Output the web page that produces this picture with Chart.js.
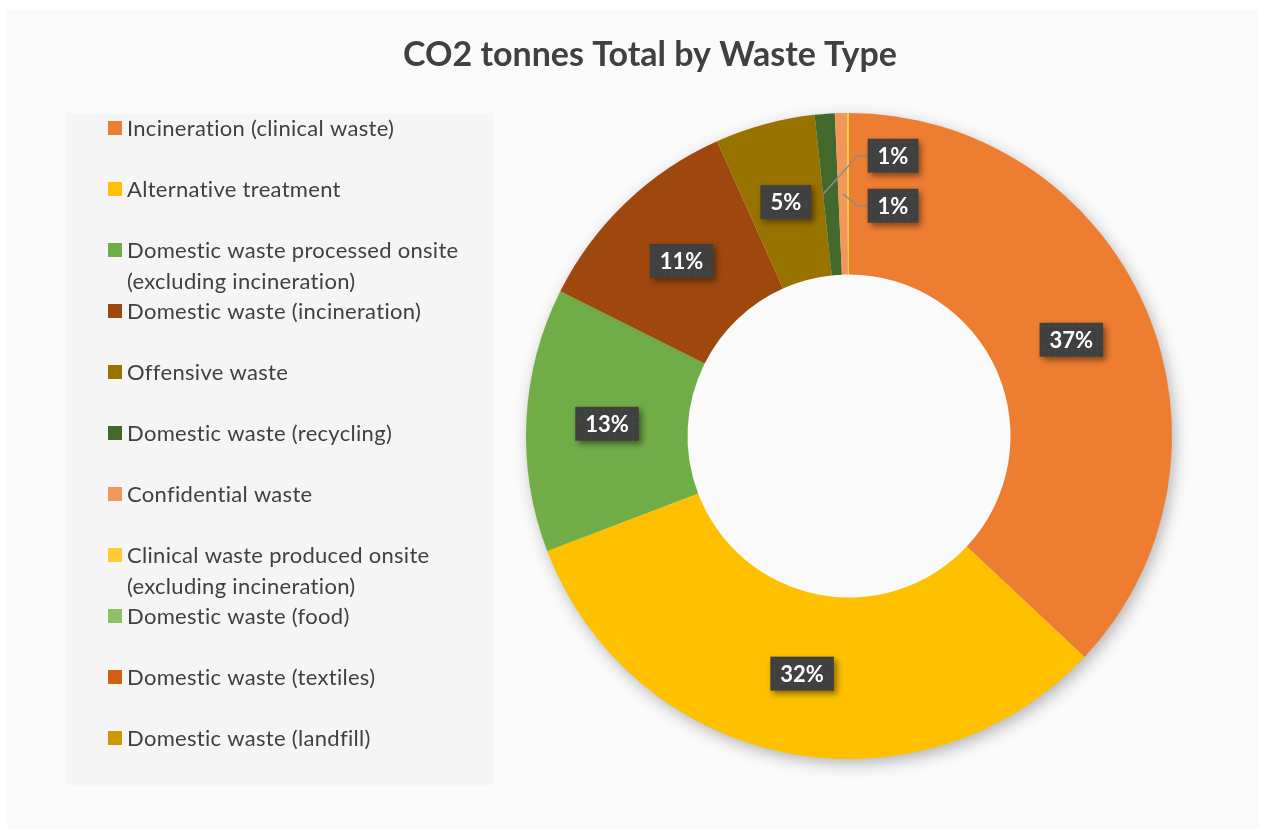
<!DOCTYPE html>
<html>
<head>
<meta charset="utf-8">
<script src="https://cdn.jsdelivr.net/npm/chart.js@4.4.1/dist/chart.umd.min.js"></script>
<style>
    html, body { margin: 0; padding: 0; background: #ffffff; }
    canvas { display: block; }
</style>
</head>
<body>
<canvas id="graficoResiduos" width="1266" height="837"></canvas>
<script>
// Datos del gráfico
const titulo = "CO2 tonnes Total by Waste Type";

const categorias = [
    "Incineration (clinical waste)",
    "Alternative treatment",
    "Domestic waste processed onsite (excluding incineration)",
    "Domestic waste (incineration)",
    "Offensive waste",
    "Domestic waste (recycling)",
    "Confidential waste",
    "Clinical waste produced onsite (excluding incineration)",
    "Domestic waste (food)",
    "Domestic waste (textiles)",
    "Domestic waste (landfill)"
];

// porcentaje del total (estimado del gráfico)
const valores = [37.0, 32.2, 13.2, 10.9, 5.0, 1.0, 0.6, 0.1, 0, 0, 0];

const colores = [
    "#ED7D31", "#FFC000", "#70AD47", "#9E480E", "#997300", "#43682B",
    "#F1975A", "#FFCD33", "#8CC168", "#D26012", "#CC9A00"
];

const FUENTE = "Lato, 'Open Sans', sans-serif";

// Fondo, título y leyenda
const fondoPlugin = {
    id: "fondo",
    beforeDraw(chart) {
        const ctx = chart.ctx;
        ctx.save();
        ctx.fillStyle = "#ffffff";
        ctx.fillRect(0, 0, chart.width, chart.height);
        ctx.fillStyle = "#fafafa";
        ctx.fillRect(7, 9, chart.width - 14, chart.height - 17);

        // título
        ctx.fillStyle = "#404040";
        ctx.font = "bold 34px " + FUENTE;
        ctx.textAlign = "center";
        ctx.textBaseline = "middle";
        ctx.fillText(titulo, 650, 55);

        // caja de la leyenda
        ctx.fillStyle = "#f5f5f5";
        ctx.fillRect(66, 113, 427, 672);

        ctx.font = "22px " + FUENTE;
        ctx.letterSpacing = "0.3px";
        ctx.textAlign = "left";
        categorias.forEach((cat, i) => {
            const y = 128 + i * 61;
            ctx.fillStyle = colores[i];
            ctx.fillRect(108, y - 7, 14, 14);

            // partir texto en líneas
            const palabras = cat.split(" ");
            const lineas = [];
            let actual = "";
            palabras.forEach(p => {
                const prueba = actual ? actual + " " + p : p;
                if (ctx.measureText(prueba).width > 350 && actual) {
                    lineas.push(actual);
                    actual = p;
                } else {
                    actual = prueba;
                }
            });
            lineas.push(actual);

            ctx.fillStyle = "#404040";
            lineas.forEach((l, j) => ctx.fillText(l, 127, y + 1 + j * 31));
        });
        ctx.restore();
    }
};

// Sombra suave del anillo
const sombraPlugin = {
    id: "sombra",
    beforeDatasetsDraw(chart) {
        const arc = chart.getDatasetMeta(0).data[0];
        if (!arc) return;
        const ctx = chart.ctx;
        ctx.save();
        ctx.shadowColor = "rgba(0,0,0,0.3)";
        ctx.shadowBlur = 16;
        ctx.shadowOffsetX = 3;
        ctx.shadowOffsetY = 5;
        ctx.fillStyle = "#dddddd";
        ctx.beginPath();
        ctx.arc(arc.x, arc.y, arc.outerRadius - 1, 0, Math.PI * 2);
        ctx.fill();
        ctx.restore();
        ctx.save();
        ctx.fillStyle = "#fafafa";
        ctx.beginPath();
        ctx.arc(arc.x, arc.y, arc.innerRadius + 1, 0, Math.PI * 2);
        ctx.fill();
        ctx.restore();
    }
};

// Etiquetas de porcentaje
function cajaEtiqueta(ctx, texto, cx, cy) {
    ctx.font = "bold 22px " + FUENTE;
    const w = ctx.measureText(texto).width + 20;
    const h = 34;
    ctx.save();
    ctx.shadowColor = "rgba(0,0,0,0.45)";
    ctx.shadowBlur = 6;
    ctx.shadowOffsetX = 3;
    ctx.shadowOffsetY = 3;
    ctx.fillStyle = "#404040";
    ctx.fillRect(cx - w / 2, cy - h / 2, w, h);
    ctx.restore();
    // puntitos de la trama
    ctx.fillStyle = "rgba(255,255,255,0.06)";
    for (let px = cx - w / 2 + 3; px < cx + w / 2; px += 6) {
        for (let py = cy - h / 2 + 3; py < cy + h / 2; py += 6) {
            ctx.fillRect(px, py, 1.5, 1.5);
        }
    }
    ctx.fillStyle = "#ffffff";
    ctx.textAlign = "center";
    ctx.textBaseline = "middle";
    ctx.fillText(texto, cx, cy + 1);
    return w;
}

const etiquetasPlugin = {
    id: "etiquetas",
    afterDatasetsDraw(chart) {
        const ctx = chart.ctx;
        const meta = chart.getDatasetMeta(0);
        const total = valores.reduce((a, b) => a + b, 0);
        let pequenas = 0;
        ctx.save();
        meta.data.forEach((arc, i) => {
            const pct = Math.round(valores[i] / total * 100);
            if (pct < 1) return;
            const ang = (arc.startAngle + arc.endAngle) / 2;
            const r = (arc.innerRadius + arc.outerRadius) / 2;
            const ax = arc.x + Math.cos(ang) * r;
            const ay = arc.y + Math.sin(ang) * r;
            const texto = pct + "%";
            if (valores[i] / total < 0.02) {
                // etiqueta desplazada con línea guía
                const lx = arc.x + 44;
                const ly = arc.y - r - 38 + pequenas * 50;
                ctx.font = "bold 22px " + FUENTE;
                const w = ctx.measureText(texto).width + 20;
                ctx.strokeStyle = "#8c8c8c";
                ctx.lineWidth = 1.5;
                ctx.beginPath();
                ctx.moveTo(lx - w / 2, ly);
                ctx.lineTo(lx - w / 2 - 10, ly);
                ctx.lineTo(ax - (pequenas === 0 ? 8 : 0), ay);
                ctx.stroke();
                cajaEtiqueta(ctx, texto, lx, ly);
                pequenas++;
            } else {
                cajaEtiqueta(ctx, texto, ax, ay);
            }
        });
        ctx.restore();
    }
};

const canvas = document.getElementById("graficoResiduos");
new Chart(canvas.getContext("2d"), {
    type: "doughnut",
    data: {
        labels: categorias,
        datasets: [{
            data: valores,
            backgroundColor: colores,
            borderWidth: 0
        }]
    },
    options: {
        responsive: false,
        animation: false,
        cutout: "50%",
        layout: { padding: { left: 526, right: 94, top: 113, bottom: 78 } },
        plugins: {
            legend: { display: false },
            tooltip: { enabled: false }
        }
    },
    plugins: [fondoPlugin, sombraPlugin, etiquetasPlugin]
});
</script>
</body>
</html>
